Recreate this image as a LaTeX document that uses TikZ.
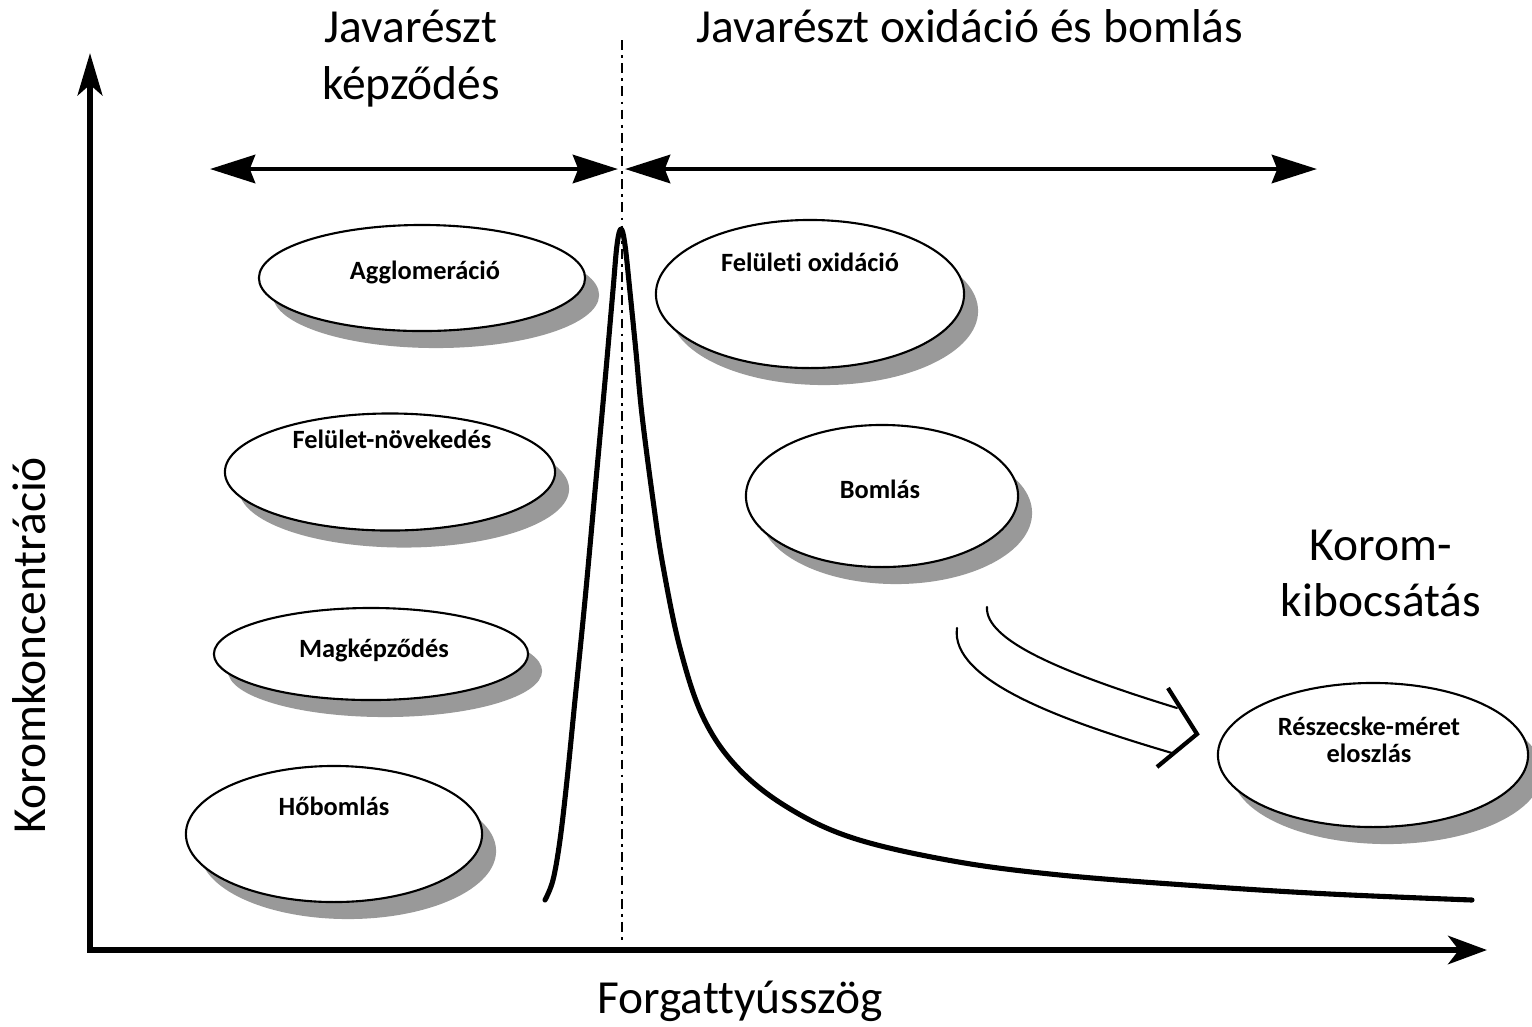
\documentclass[tikz,border=0pt]{standalone}
\usepackage{fontspec}
\setmainfont{Carlito}[Ligatures={NoCommon}]
\usetikzlibrary{arrows.meta,shapes.geometric,shadows}
\begin{document}
\begin{tikzpicture}[x=0.01cm,y=-0.01cm,
  blob/.style={ellipse, draw=black, line width=0.6pt, fill=white, inner sep=0pt,
    drop shadow={shadow xshift=0.14cm, shadow yshift=-0.17cm, fill=black!40, opacity=1}},
  big/.style={font=\fontsize{13.5}{13.5}\selectfont, inner sep=0pt, anchor=base},
  small/.style={font=\bfseries\fontsize{7.5}{9}\selectfont, inner sep=0pt, anchor=base},
  axisline/.style={line width=1.8pt},
  toparrow/.style={line width=1.4pt, {Stealth[length=12.8pt,width=8pt,inset=1.5pt]}-{Stealth[length=12.8pt,width=8pt,inset=1.5pt]}},
  thinline/.style={line width=0.6pt, line cap=round},
]
\useasboundingbox (0,0) rectangle (1532,1026);

% ellipses
\node[blob, minimum width=3.26cm, minimum height=1.06cm] (agg) at (422,278) {};
\node[blob, minimum width=3.08cm, minimum height=1.48cm] (fox) at (810,294) {};
\node[blob, minimum width=3.30cm, minimum height=1.17cm] (fnov) at (390,472) {};
\node[blob, minimum width=2.72cm, minimum height=1.42cm] (bom) at (882,496) {};
\node[blob, minimum width=3.14cm, minimum height=0.92cm] (mag) at (371,654) {};
\node[blob, minimum width=2.96cm, minimum height=1.36cm] (hob) at (334,834) {};
\node[blob, minimum width=3.10cm, minimum height=1.44cm] (res) at (1373,755) {};

% ellipse labels
\node[small] (tagg) at (425,279) {Agglomeráció};
\node[small] (tfox) at (810,271) {Felületi oxidáció};
\node[small] (tfnov) at (392,448) {Felület-növekedés};
\node[small] (tbom) at (880,498) {Bomlás};
\node[small] (tmag) at (374,657) {Magképződés};
\node[small] (thob) at (334,815) {Hőbomlás};
\node[small] (tres1) at (1369,735) {Részecske-méret};
\node[small] (tres2) at (1369,762) {eloszlás};

% axes
\coordinate (ytop) at (90,53);
\coordinate (orig) at (90,950);
\coordinate (xend) at (1487,950);
\draw[axisline, {Stealth[length=12pt,width=7pt,inset=3pt]}-{Stealth[length=11pt,width=8pt,inset=3pt]}] (ytop) -- (orig) -- (xend);

% dash-dot separator
\coordinate (dtop) at (622,40);
\coordinate (dbot) at (622,945);
\draw[line width=0.7pt, dash pattern=on 2.8pt off 1.5pt on 0.8pt off 1.5pt] (dtop) -- (dbot);

% top arrows
\coordinate (a1) at (210,169);
\coordinate (a2) at (618,169);
\coordinate (a3) at (625,169);
\coordinate (a4) at (1317,169);
\draw[toparrow] (a1) -- (a2);
\draw[toparrow] (a3) -- (a4);

% concentration curve
\draw[line width=1.45pt, line join=round, line cap=round]
  plot[smooth, tension=0.6] coordinates {
  (545,900) (553,880) (560,840) (567,780) (575,700) (585,600) (596,480) (606,370)
  (613,290) (617,245) (621,229) (625,245) (630,292) (636,352) (642,415) (653,500)
  (663,566) (680,648) (703,717) (737,767) (787,807) (853,838) (953,861) (1060,875)
  (1200,886) (1330,894) (1472,900)};

% hollow arrow
\coordinate (u1) at (987,607);
\coordinate (u2) at (1177,708);
\coordinate (l1) at (957,628);
\coordinate (l2) at (1172,753);
\draw[thinline] (u1) .. controls (985,640) and (1060,672) .. (u2);
\draw[thinline] (l1) .. controls (950,680) and (1060,720) .. (l2);
\coordinate (c1) at (1168,688);
\coordinate (c2) at (1197,734);
\coordinate (c3) at (1157,767);
\draw[line width=1.2pt, line join=miter] (c1) -- (c2) -- (c3);

% big labels
\node[big] (jk1) at (411,42) {Javarészt};
\node[big] (jk2) at (411,99) {képződés};
\node[big] (job) at (970,42) {Javarészt oxidáció és bomlás};
\node[big] (kk1) at (1381,560) {Korom-};
\node[big] (kk2) at (1381,616) {kibocsátás};
\node[big] (xlab) at (740,1013) {Forgattyússzög};
\node[big, rotate=90] (ylab) at (45,645) {Koromkoncentráció};
\end{tikzpicture}
\end{document}
